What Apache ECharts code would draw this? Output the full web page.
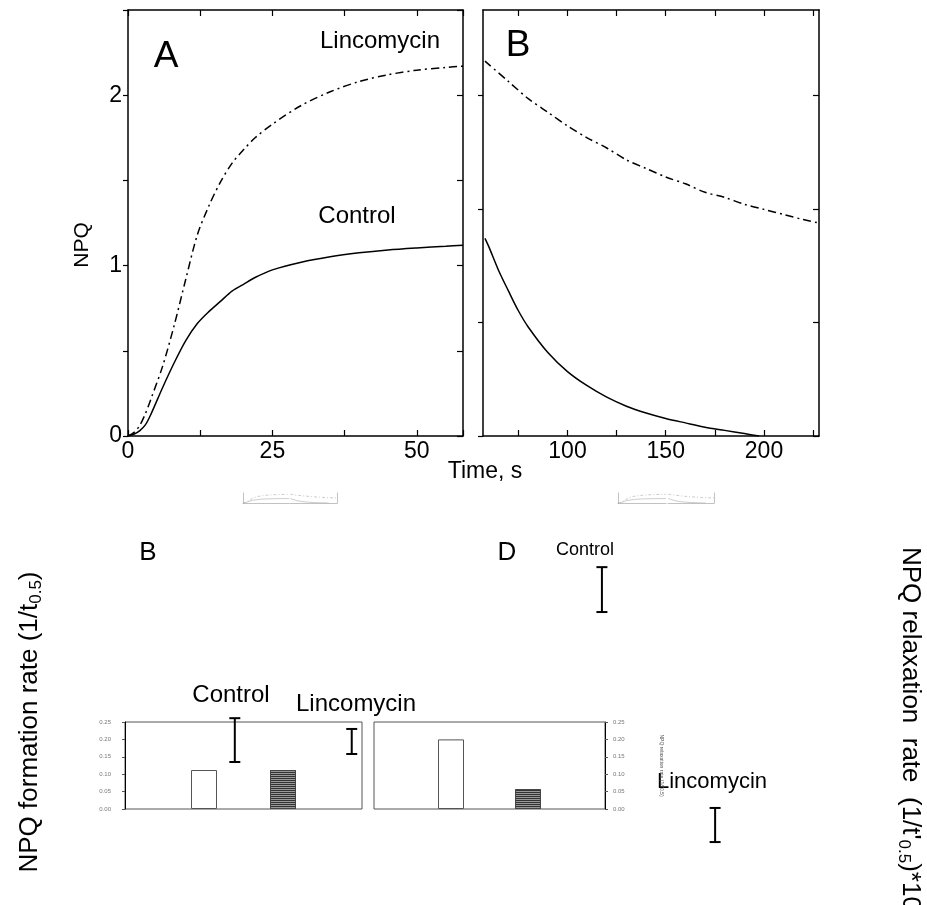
<!DOCTYPE html>
<html><head><meta charset="utf-8">
<script src="https://cdn.jsdelivr.net/npm/echarts@6/dist/echarts.min.js"></script>
<style>html,body{margin:0;padding:0;background:#fff}#c{width:927px;height:905px}</style>
</head><body><div id="c"></div>
<script>
// ---------- data ----------
const timeA = [0,1,2,3,4,6,8,10,12,14,16,18,20,22,25,30,35,40,45,50,55,58];
const linA  = [0,0.02,0.06,0.13,0.22,0.41,0.65,0.92,1.18,1.35,1.49,1.60,1.68,1.75,1.83,1.94,2.02,2.08,2.12,2.147,2.163,2.17];
const ctlA  = [0,0.01,0.03,0.065,0.13,0.285,0.43,0.56,0.66,0.73,0.79,0.85,0.89,0.93,0.975,1.02,1.052,1.075,1.092,1.104,1.114,1.12];

const timeBLin = [58,70,80,90,100,110,120,130,140,150,160,170,180,190,200,210,220,228];
const linB     = [2.2,2.08,1.98,1.90,1.82,1.75,1.69,1.62,1.57,1.52,1.48,1.43,1.40,1.36,1.33,1.30,1.27,1.25];
const timeBCtl = [58,60,65,70,75,80,90,100,110,120,130,140,150,160,170,180,190,197.5];
const ctlB     = [1.16,1.11,0.97,0.85,0.735,0.64,0.49,0.378,0.295,0.228,0.175,0.135,0.103,0.077,0.052,0.033,0.014,0];

const xLabelsA = [0,25,50];
const xLabelsB = [100,150,200];
const xTicksB  = [75,100,125,150,175,200,225];
const yLabelsNPQ = [0,1,2];
const yTicksB = [0,2/3,4/3,2];

const barPos = [1,2];                 // Control, Lincomycin
const formationRate  = [0.112,0.112];
const relaxationRate = [0.20,0.057];

const errFormX = [1.39,2.87], errFormLow = [0.135,0.158], errFormHigh = [0.261,0.23];
const errRelaxX = [2.96,4.43], errRelaxLow = [0.566,-0.095], errRelaxHigh = [0.695,0.003];

// ---------- helpers ----------
const FONT = 'Liberation Sans, Arial, sans-serif';
const zip = (a,b) => a.map((v,i)=>[v,b[i]]);
const axLine = {show:true, onZero:false, lineStyle:{color:'#000', width:1.5}};

function mainX(grid, min, max, pos, opts){
  return Object.assign({type:'value', gridIndex:grid, min, max, position:pos,
    axisLine:axLine, splitLine:{show:false},
    axisTick:{show:true, inside:true, length:6, lineStyle:{color:'#000', width:1.2}},
    axisLabel:{show:false}}, opts||{});
}
function mainY(grid, pos, inside, opts){
  return Object.assign({type:'value', gridIndex:grid, min:0, max:2.5, position:pos,
    axisLine:axLine, splitLine:{show:false},
    axisTick:{show:true, inside, length:inside?6:5, lineStyle:{color:'#000', width:1.2}},
    axisLabel:{show:false}}, opts||{});
}
const labelStyle = {show:true, color:'#000', fontFamily:FONT, fontSize:23};

const miniGrids = [
  {left:243, top:493, width:46, height:10},
  {left:290, top:493, width:47, height:10},
  {left:618, top:493, width:48, height:10},
  {left:668, top:493, width:46, height:10}
];

const grids = [
  {left:128, top:10, width:335, height:426},
  {left:483, top:10, width:336, height:426},
  {left:125, top:722, width:237, height:87, show:true, borderColor:'#555', borderWidth:1},
  {left:374, top:722, width:231, height:87, show:true, borderColor:'#555', borderWidth:1}
].concat(miniGrids);

const miniAx = {axisLine:{onZero:false, lineStyle:{color:'#999',width:0.6}}, axisTick:{show:false}, axisLabel:{show:false}, splitLine:{show:false}};
const xAxes = [
  mainX(0,0,58,'bottom',{interval:12.5, axisLabel:Object.assign({customValues:xLabelsA, margin:4}, labelStyle)}),
  mainX(0,0,58,'top',{interval:12.5}),
  mainX(1,57,228,'bottom',{axisTick:{show:true, inside:true, length:6, customValues:xTicksB, lineStyle:{color:'#000',width:1.2}},
        axisLabel:Object.assign({customValues:xLabelsB, margin:4}, labelStyle)}),
  mainX(1,57,228,'top',{axisTick:{show:true, inside:true, length:6, customValues:xTicksB, lineStyle:{color:'#000',width:1.2}}}),
  {type:'value', gridIndex:2, min:0, max:3, show:false},
  {type:'value', gridIndex:3, min:0, max:3, show:false},
  Object.assign({type:'value', gridIndex:4, min:0, max:58}, miniAx),
  Object.assign({type:'value', gridIndex:5, min:57, max:228}, miniAx),
  Object.assign({type:'value', gridIndex:6, min:0, max:58}, miniAx),
  Object.assign({type:'value', gridIndex:7, min:57, max:228}, miniAx)
];

const tinyLabel = {show:true, color:'#777', fontSize:6, fontFamily:FONT, formatter:v=>v.toFixed(2)};
const miniAy = {axisLine:{show:true,onZero:false,lineStyle:{color:'#999',width:0.6}}, axisTick:{show:false}, axisLabel:{show:false}, splitLine:{show:false}};
const yAxes = [
  mainY(0,'left',false,{interval:0.5, axisLabel:Object.assign({customValues:yLabelsNPQ, margin:6}, labelStyle)}),
  mainY(0,'right',true,{interval:0.5}),
  mainY(1,'left',false,{axisTick:{show:true, inside:false, length:5, customValues:yTicksB, lineStyle:{color:'#000',width:1.2}}}),
  mainY(1,'right',true,{axisTick:{show:true, inside:true, length:6, customValues:yTicksB, lineStyle:{color:'#000',width:1.2}}}),
  {type:'value', gridIndex:2, min:0, max:0.25, interval:0.05, position:'left',
    axisLine:{show:true, onZero:false, lineStyle:{color:'#000', width:1}}, splitLine:{show:false},
    axisTick:{show:true, length:3, lineStyle:{color:'#555'}}, axisLabel:Object.assign({margin:14}, tinyLabel)},
  {type:'value', gridIndex:3, min:0, max:0.25, interval:0.05, position:'right',
    axisLine:{show:true, onZero:false, lineStyle:{color:'#000', width:1}}, splitLine:{show:false},
    axisTick:{show:true, length:3, lineStyle:{color:'#555'}}, axisLabel:Object.assign({margin:8}, tinyLabel),
    name:"NPQ relaxation rate (1/t'0.5)", nameLocation:'middle', nameRotate:-90, nameGap:54,
    nameTextStyle:{fontSize:5, color:'#555', fontFamily:FONT}},
  Object.assign({type:'value', gridIndex:4, min:0, max:2.5}, miniAy),
  Object.assign({type:'value', gridIndex:5, min:0, max:2.5, position:'right'}, miniAy),
  Object.assign({type:'value', gridIndex:6, min:0, max:2.5}, miniAy),
  Object.assign({type:'value', gridIndex:7, min:0, max:2.5, position:'right'}, miniAy)
];

const dashDot = [8,4,2,4];
function curve(xi, yi, data, dashed, mini){
  return {type:'line', xAxisIndex:xi, yAxisIndex:yi, data, symbol:'none', smooth:0.3, silent:true,
    clip:true, animation:false,
    lineStyle:{color: mini?'#aaa':'#000', width: mini?0.6:1.5, type: dashed ? (mini?[3,2,1,2]:dashDot) : 'solid'}};
}

const whiteBar = {color:'#fff', borderColor:'#555', borderWidth:1};
const hatchBar = {color:'#999', borderColor:'#444', borderWidth:1,
  decal:{symbol:'rect', symbolSize:1, dashArrayX:[1,0], dashArrayY:[1,1], rotation:0, color:'#333'}};
function bars(xi, values){
  return {type:'bar', xAxisIndex:xi, yAxisIndex:xi, barWidth:26, silent:true, animation:false,
    data: values.map((v,i)=>({value:[barPos[i], v], itemStyle: i===0 ? whiteBar : hatchBar}))};
}
function errBars(xi, xs, lo, hi){
  return {type:'custom', xAxisIndex:xi, yAxisIndex:xi, clip:false, silent:true, animation:false,
    data: xs.map((x,i)=>[x, lo[i], hi[i]]),
    renderItem:(p, api)=>{
      const a = api.coord([api.value(0), api.value(1)]);
      const b = api.coord([api.value(0), api.value(2)]);
      const w = 5.5, st = {stroke:'#000', lineWidth:2};
      return {type:'group', children:[
        {type:'line', shape:{x1:a[0], y1:a[1], x2:b[0], y2:b[1]}, style:st},
        {type:'line', shape:{x1:a[0]-w, y1:a[1], x2:a[0]+w, y2:a[1]}, style:st},
        {type:'line', shape:{x1:b[0]-w, y1:b[1], x2:b[0]+w, y2:b[1]}, style:st}
      ]};
    }};
}

const series = [
  curve(0,0, zip(timeA, linA), true),
  curve(0,0, zip(timeA, ctlA), false),
  curve(2,2, zip(timeBLin, linB), true),
  curve(2,2, zip(timeBCtl, ctlB), false),
  bars(4, formationRate),
  bars(5, relaxationRate),
  errBars(4, errFormX, errFormLow, errFormHigh),
  errBars(5, errRelaxX, errRelaxLow, errRelaxHigh),
  curve(6,6, zip(timeA, linA), true, true),
  curve(6,6, zip(timeA, ctlA), false, true),
  curve(7,7, zip(timeBLin, linB), true, true),
  curve(7,7, zip(timeBCtl, ctlB), false, true),
  curve(8,8, zip(timeA, linA), true, true),
  curve(8,8, zip(timeA, ctlA), false, true),
  curve(9,9, zip(timeBLin, linB), true, true),
  curve(9,9, zip(timeBCtl, ctlB), false, true)
];

function txt(text, x, y, size, opts){
  return Object.assign({type:'text', x, y, silent:true,
    style:{text, fontSize:size, fontFamily:FONT, fill:'#000', align:'center', verticalAlign:'middle'}}, opts||{});
}
const subRich = {sub:{fontSize:17, fontFamily:FONT, verticalAlign:'bottom', lineHeight:15, fill:'#000'},
                 n:{fontSize:26, fontFamily:FONT, lineHeight:29, fill:'#000'}};

const graphic = [
  txt('A', 166, 57, 37),
  txt('B', 518, 46, 37),
  txt('Lincomycin', 380, 41, 24),
  txt('Control', 357, 216, 24),
  txt('Time, s', 485, 472, 23),
  txt('NPQ', 82, 245, 21, {rotation:Math.PI/2}),
  txt('B', 148, 553, 26),
  txt('D', 507, 553, 26),
  txt('Control', 585, 550, 18),
  txt('Control', 231, 695, 24),
  txt('Lincomycin', 296, 704, 24, {style:{text:'Lincomycin', fontSize:24, fontFamily:FONT, fill:'#000', align:'left', verticalAlign:'middle'}}),
  txt('Lincomycin', 712, 782, 22),
  {type:'text', x:30, y:722, rotation:Math.PI/2, silent:true,
    style:{text:'{n|NPQ formation rate (1/t}{sub|0.5}{n|)}', rich:subRich, align:'center', verticalAlign:'middle'}},
  {type:'text', x:910, y:547, rotation:-Math.PI/2, silent:true,
    style:{text:"{n|NPQ relaxation  rate  (1/t'}{sub|0.5}{n|)*10}", rich:subRich, align:'left', verticalAlign:'middle'}}
];

const chart = echarts.init(document.getElementById('c'), null, {renderer:'canvas'});
chart.setOption({
  animation:false,
  backgroundColor:'#fff',
  grid: grids,
  xAxis: xAxes,
  yAxis: yAxes,
  series,
  graphic
});
</script></body></html>
